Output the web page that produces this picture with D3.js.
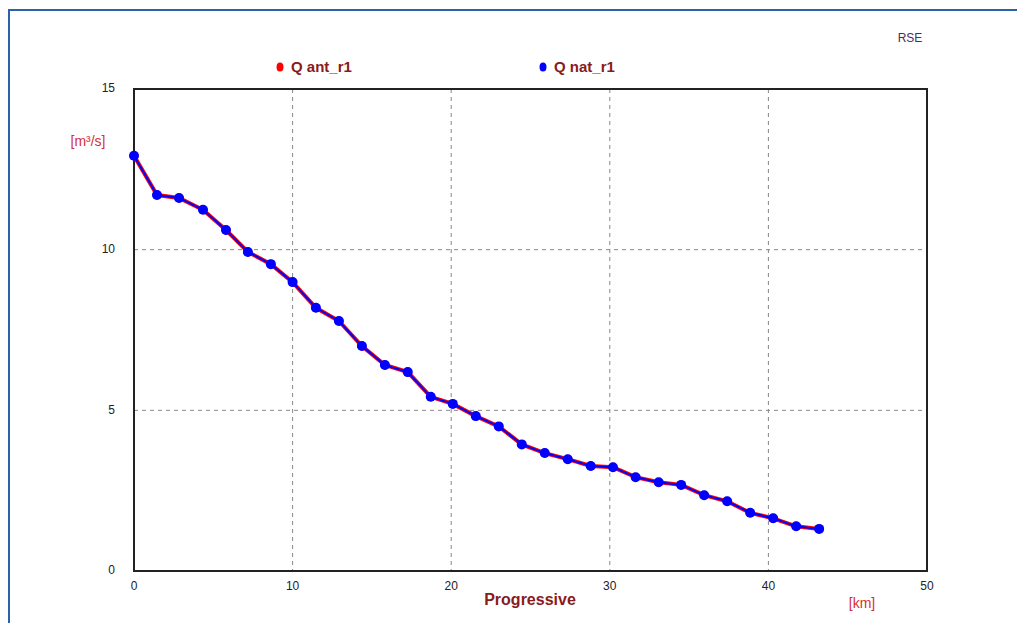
<!DOCTYPE html>
<html>
<head>
<meta charset="utf-8">
<script src="https://cdn.jsdelivr.net/npm/d3@7"></script>
<style>
  body { margin: 0; background: #fff; }
  svg { display: block; font-family: "Liberation Sans", Arial, sans-serif; }
</style>
</head>
<body>
<svg id="chart" width="1017" height="623"></svg>
<script>
const svg = d3.select("#chart");

// progressive distance (km) and discharge (m3/s)
const progressive = [0, 1.45, 2.84, 4.35, 5.8, 7.18, 8.63, 10.0, 11.47, 12.92, 14.37, 15.82, 17.26, 18.71,
  20.1, 21.55, 23.0, 24.45, 25.9, 27.35, 28.8, 30.2, 31.63, 33.08, 34.5, 35.95, 37.4, 38.85, 40.3, 41.75, 43.2];
const qAnt = [12.92, 11.70, 11.61, 11.24, 10.61, 9.93, 9.55, 8.99, 8.19, 7.78, 7.00, 6.41, 6.19, 5.42,
  5.20, 4.82, 4.50, 3.94, 3.67, 3.48, 3.27, 3.23, 2.92, 2.76, 2.68, 2.36, 2.17, 1.81, 1.64, 1.39, 1.31];
const qNat = [12.92, 11.70, 11.61, 11.24, 10.61, 9.93, 9.55, 8.99, 8.19, 7.78, 7.00, 6.41, 6.19, 5.42,
  5.20, 4.82, 4.50, 3.94, 3.67, 3.48, 3.27, 3.23, 2.92, 2.76, 2.68, 2.36, 2.17, 1.81, 1.64, 1.39, 1.31];
const xTicks = [0, 10, 20, 30, 40, 50];
const yTicks = [0, 5, 10, 15];

const plot = { left: 134, right: 927, top: 89, bottom: 571 };

const x = d3.scaleLinear().domain([0, 50]).range([plot.left, plot.right]);
const y = d3.scaleLinear().domain([0, 15]).range([plot.bottom, plot.top]);

// outer frame
svg.append("path")
  .attr("d", "M9,623 V10 H1017")
  .attr("fill", "none")
  .attr("stroke", "#2b62a8")
  .attr("stroke-width", 2);

// grid
svg.append("g").selectAll("line")
  .data(xTicks.slice(1, -1))
  .join("line")
  .attr("x1", d => x(d)).attr("x2", d => x(d))
  .attr("y1", plot.top).attr("y2", plot.bottom)
  .attr("stroke", "#888")
  .attr("stroke-dasharray", "4,4");

svg.append("g").selectAll("line")
  .data(yTicks.slice(1, -1))
  .join("line")
  .attr("x1", plot.left).attr("x2", plot.right)
  .attr("y1", d => y(d)).attr("y2", d => y(d))
  .attr("stroke", "#888")
  .attr("stroke-dasharray", "4,4");

svg.append("rect")
  .attr("x", plot.left).attr("y", plot.top)
  .attr("width", plot.right - plot.left)
  .attr("height", plot.bottom - plot.top)
  .attr("fill", "none")
  .attr("stroke", "#222")
  .attr("stroke-width", 2);

// tick labels
svg.append("g").selectAll("text")
  .data(yTicks)
  .join("text")
  .attr("x", 115)
  .attr("y", d => y(d))
  .attr("text-anchor", "end")
  .attr("dominant-baseline", "middle")
  .attr("font-size", 12)
  .attr("fill", "#222")
  .text(d => d);

svg.append("g").selectAll("text")
  .data(xTicks)
  .join("text")
  .attr("x", d => x(d))
  .attr("y", 590)
  .attr("text-anchor", "middle")
  .attr("font-size", 12)
  .attr("fill", "#222")
  .text(d => d);

// axis titles
svg.append("text")
  .attr("x", 88).attr("y", 146)
  .attr("text-anchor", "middle")
  .attr("font-size", 14)
  .attr("fill", "#d43030")
  .text("[m³/s]");

svg.append("text")
  .attr("x", 530).attr("y", 605)
  .attr("text-anchor", "middle")
  .attr("font-size", 16)
  .attr("font-weight", "bold")
  .attr("fill", "#8b1a1a")
  .text("Progressive");

svg.append("text")
  .attr("x", 862).attr("y", 608)
  .attr("text-anchor", "middle")
  .attr("font-size", 14)
  .attr("fill", "#d43030")
  .text("[km]");

svg.append("text")
  .attr("x", 910).attr("y", 42)
  .attr("text-anchor", "middle")
  .attr("font-size", 12)
  .attr("fill", "#4b2d5e")
  .text("RSE");

// series
const rows = progressive.map((p, i) => ({ p, ant: qAnt[i], nat: qNat[i] }));

svg.append("path")
  .datum(rows)
  .attr("fill", "none")
  .attr("stroke", "#ff0000")
  .attr("stroke-width", 4)
  .attr("d", d3.line().x(d => x(d.p)).y(d => y(d.ant)));

svg.append("g").selectAll("circle")
  .data(rows)
  .join("circle")
  .attr("cx", d => x(d.p)).attr("cy", d => y(d.ant))
  .attr("r", 4.5)
  .attr("fill", "#ff0000");

svg.append("path")
  .datum(rows)
  .attr("fill", "none")
  .attr("stroke", "#0000ff")
  .attr("stroke-width", 2)
  .attr("d", d3.line().x(d => x(d.p)).y(d => y(d.nat)));

svg.append("g").selectAll("circle")
  .data(rows)
  .join("circle")
  .attr("cx", d => x(d.p)).attr("cy", d => y(d.nat))
  .attr("r", 5)
  .attr("fill", "#0000ff");

// legend
const legend = [
  { name: "Q ant_r1", color: "#ff0000", x: 280 },
  { name: "Q nat_r1", color: "#0000ff", x: 543 }
];
const lg = svg.append("g").selectAll("g")
  .data(legend)
  .join("g")
  .attr("transform", d => `translate(${d.x},67)`);
lg.append("ellipse").attr("rx", 3.5).attr("ry", 4.5).attr("fill", d => d.color);
lg.append("text")
  .attr("x", 11).attr("y", 5)
  .attr("font-size", 15)
  .attr("font-weight", "bold")
  .attr("fill", "#8b1a1a")
  .text(d => d.name);
</script>
</body>
</html>
